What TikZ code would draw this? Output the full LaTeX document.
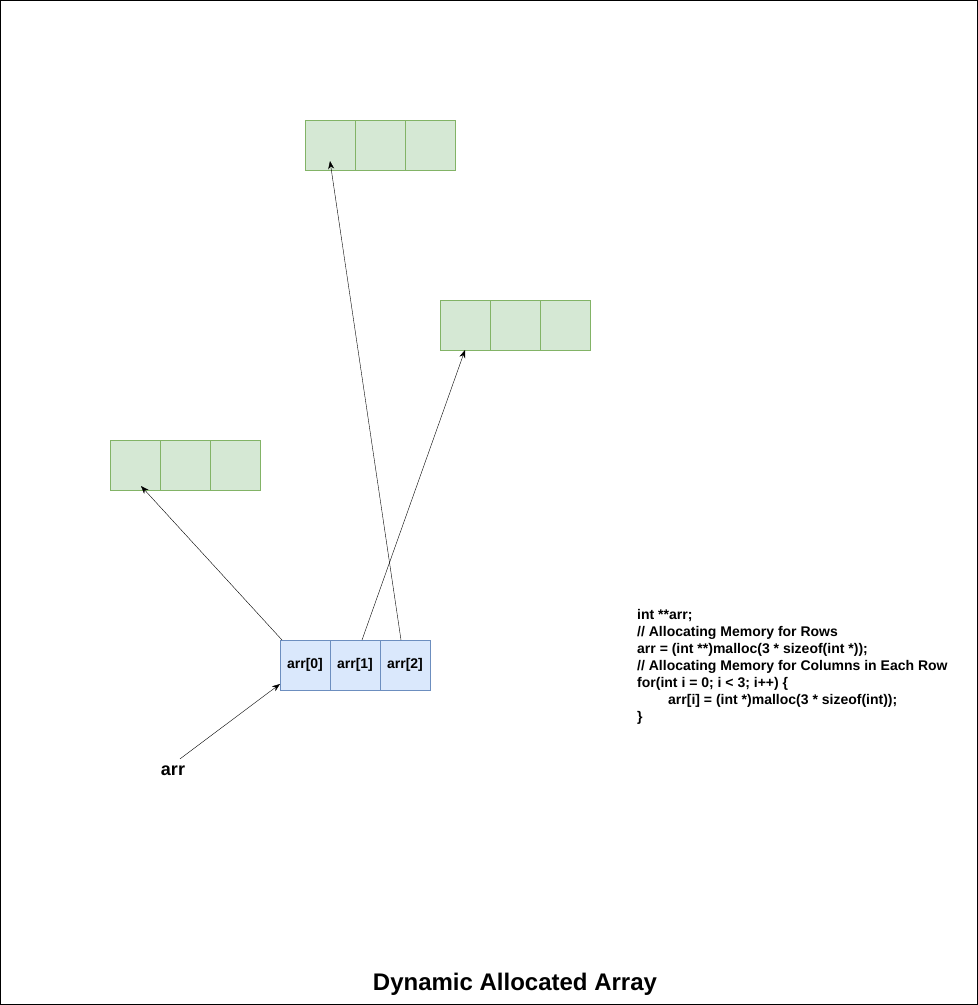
\documentclass[tikz,border=0pt]{standalone}
\usepackage{fontspec}
\setmainfont{Liberation Sans}
\usepackage{tikz}
\usetikzlibrary{positioning,arrows.meta,calc}
\definecolor{ptrfill}{HTML}{DAE8FC}
\definecolor{ptrline}{HTML}{6C8EBF}
\definecolor{rowfill}{HTML}{D5E8D4}
\definecolor{rowline}{HTML}{82B366}

\begin{document}
\begin{tikzpicture}[x=1pt,y=-1pt]
	\tikzstyle{every node}+=[inner sep=0pt]
	\tikzstyle{ptrcell}=[draw=ptrline,fill=ptrfill,outer sep=0pt,minimum width=50pt,minimum height=50pt,font=\fontsize{14}{17}\selectfont\bfseries]
	\tikzstyle{rowcell}=[draw=rowline,fill=rowfill,outer sep=0pt,minimum width=50pt,minimum height=50pt]
	\tikzstyle{ptr}=[black,-{Stealth[length=8pt,width=6pt]}]
	\useasboundingbox (0,0) rectangle (978,1005);
	\draw [black] (0.5,0.5) rectangle (977.5,1004.5);
	% the pointer array
	\node [ptrcell] (a0) at (305,665) {arr[0]};
	\node [ptrcell,right=0pt of a0] (a1) {arr[1]};
	\node [ptrcell,right=0pt of a1] (a2) {arr[2]};
	% the three rows
	\node [rowcell] (g1a) at (330,145) {};
	\node [rowcell,right=0pt of g1a] (g1b) {};
	\node [rowcell,right=0pt of g1b] (g1c) {};
	\node [rowcell] (g2a) at (465,325) {};
	\node [rowcell,right=0pt of g2a] (g2b) {};
	\node [rowcell,right=0pt of g2b] (g2c) {};
	\node [rowcell] (g3a) at (135,465) {};
	\node [rowcell,right=0pt of g3a] (g3b) {};
	\node [rowcell,right=0pt of g3b] (g3c) {};
	\draw [ptr] ($(a0.north west)+(2,0)$) -- ($(g3a.south)+(6,-4)$);
	\draw [ptr] ($(a1.north)+(7,0)$) -- (g2a.south);
	\draw [ptr] ($(a2.north)+(-4,0)$) -- ($(g1a.south)+(0,-9)$);
	% the variable
	\node [font=\fontsize{18}{20}\selectfont\bfseries] (arr) at (173,771) {arr};
	\draw [ptr] ($(arr.north)+(7,-7)$) -- ($(a0.south west)+(0,-6)$);
	\node [anchor=north west,align=left,font=\fontsize{14}{17}\selectfont\bfseries] (code) at (637,609) {int **arr;\\
// Allocating Memory for Rows\\
arr = (int **)malloc(3 * sizeof(int *));\\
// Allocating Memory for Columns in Each Row\\
for(int i = 0; i < 3; i++) \{\\
\hspace*{31pt}arr[i] = (int *)malloc(3 * sizeof(int));\\
\}};
	\node [font=\fontsize{24}{28}\selectfont\bfseries] (title) at (515,984) {Dynamic Allocated Array};
\end{tikzpicture}
\end{document}
